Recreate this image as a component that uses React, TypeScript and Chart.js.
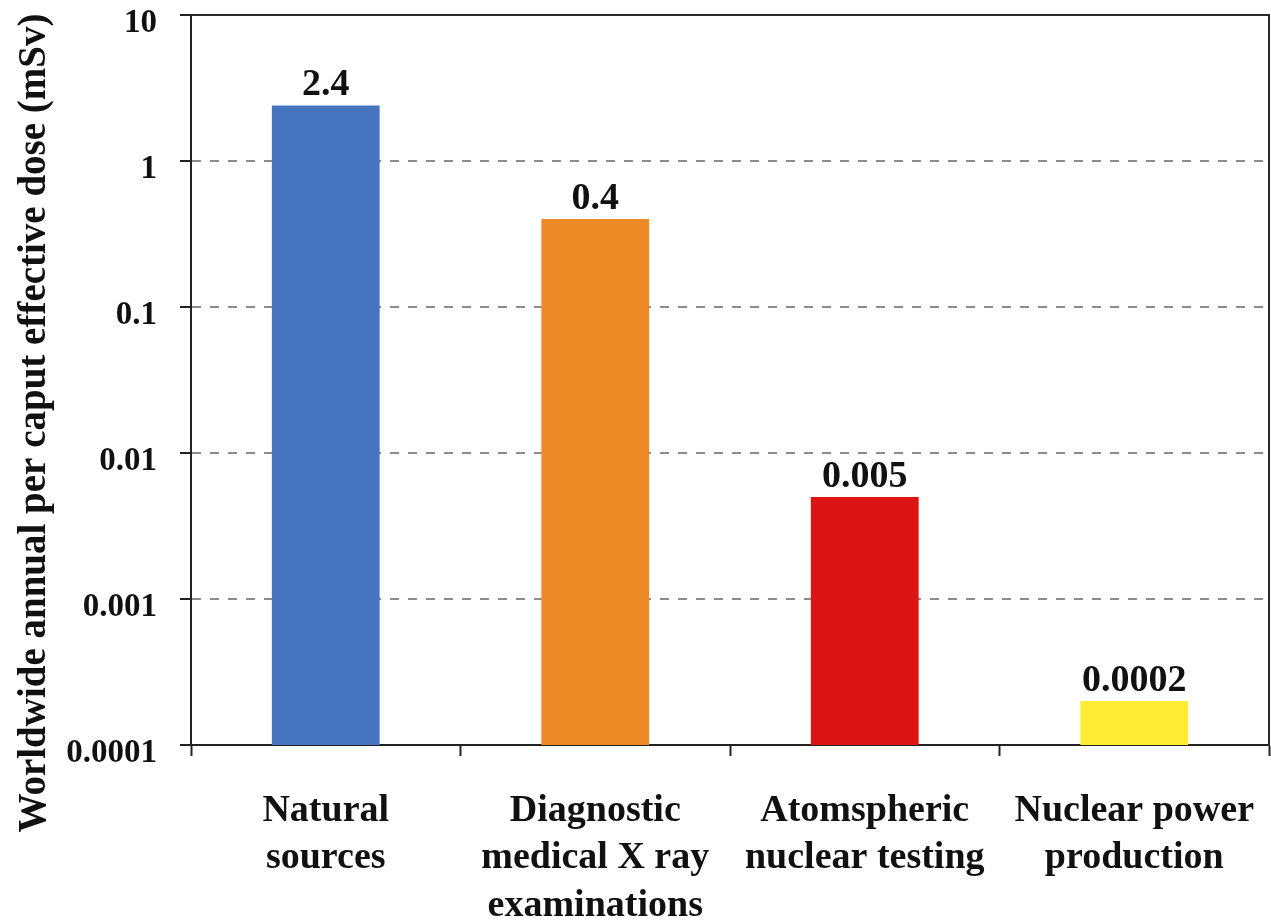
import React, { useEffect, useRef } from "react";
import { Chart, registerables } from "chart.js";

Chart.register(...registerables);

const categories: string[][] = [
  ["Natural", "sources"],
  ["Diagnostic", "medical X ray", "examinations"],
  ["Atomspheric", "nuclear testing"],
  ["Nuclear power", "production"],
];
const doses: number[] = [2.4, 0.4, 0.005, 0.0002];
const doseLabels: string[] = ["2.4", "0.4", "0.005", "0.0002"];
const barColors: string[] = ["#4674BE", "#EE8A26", "#DD1414", "#FFEC33"];
const yTickValues: number[] = [0.0001, 0.001, 0.01, 0.1, 1, 10];
const yTickLabels: string[] = ["0.0001", "0.001", "0.01", "0.1", "1", "10"];
const yTitle = "Worldwide annual per caput effective dose (mSv)";

const FONT = "'Liberation Serif', 'Times New Roman', serif";

const framePlugin = {
  id: "frame",
  afterDraw(chart: any) {
    const { ctx, chartArea } = chart;
    ctx.save();
    ctx.strokeStyle = "#2a2a2a";
    ctx.lineWidth = 2;
    ctx.beginPath();
    ctx.moveTo(chartArea.left, chartArea.top);
    ctx.lineTo(chartArea.right, chartArea.top);
    ctx.lineTo(chartArea.right, chartArea.bottom);
    ctx.stroke();
    ctx.restore();
  },
};

const valueLabelPlugin = {
  id: "valueLabels",
  afterDatasetsDraw(chart: any) {
    const { ctx } = chart;
    const meta = chart.getDatasetMeta(0);
    ctx.save();
    ctx.fillStyle = "#111";
    ctx.font = `bold 38px ${FONT}`;
    ctx.textAlign = "center";
    ctx.textBaseline = "alphabetic";
    meta.data.forEach((bar: any, i: number) => {
      ctx.fillText(doseLabels[i], bar.x, bar.y - 10);
    });
    ctx.restore();
  },
};

const yTitlePlugin = {
  id: "yTitle",
  afterDraw(chart: any) {
    const { ctx } = chart;
    ctx.save();
    ctx.translate(35, 423);
    ctx.rotate(-Math.PI / 2);
    ctx.fillStyle = "#111";
    ctx.font = `bold 39px ${FONT}`;
    ctx.textAlign = "center";
    ctx.textBaseline = "middle";
    ctx.fillText(yTitle, 0, 0);
    ctx.restore();
  },
};

export default function App() {
  const canvasRef = useRef<HTMLCanvasElement | null>(null);

  useEffect(() => {
    const canvas = canvasRef.current;
    if (!canvas) return;
    const chart = new Chart(canvas, {
      type: "bar",
      data: {
        labels: categories,
        datasets: [
          {
            data: doses,
            backgroundColor: barColors,
            borderWidth: 0,
            barPercentage: 0.4,
            categoryPercentage: 1,
          },
        ],
      },
      options: {
        responsive: false,
        animation: false,
        devicePixelRatio: 1,
        layout: { padding: { top: 15, right: 2, bottom: 0, left: 0 } },
        plugins: {
          legend: { display: false },
          tooltip: { enabled: false },
          title: { display: false },
        },
        scales: {
          x: {
            type: "category",
            offset: true,
            grid: {
              display: true,
              drawOnChartArea: false,
              drawTicks: true,
              tickLength: 11,
              offset: true,
              tickColor: "#222",
              tickWidth: 2,
            },
            border: { display: true, color: "#222", width: 2 },
            ticks: {
              color: "#111",
              font: { family: FONT, size: 38, weight: "bold", lineHeight: 1.24 },
              padding: 32,
              maxRotation: 0,
              minRotation: 0,
              autoSkip: false,
            },
            afterFit(scale: any) {
              scale.height = 177;
              scale.paddingLeft = 0;
              scale.paddingRight = 0;
            },
          },
          y: {
            type: "logarithmic",
            min: 0.0001,
            max: 10,
            afterBuildTicks(scale: any) {
              scale.ticks = yTickValues.map((v) => ({ value: v }));
            },
            grid: {
              display: true,
              drawOnChartArea: true,
              drawTicks: true,
              tickLength: 11,
              lineWidth: 2,
              color: (ctx: any) => {
                const v = ctx.tick ? ctx.tick.value : null;
                return v === 10 || v === 0.0001 ? "rgba(0,0,0,0)" : "#8c8c8c";
              },
              tickColor: "#222",
              tickWidth: 2,
              tickBorderDash: [],
            },
            border: { display: true, color: "#222", width: 2, dash: [9, 9] },
            ticks: {
              color: "#111",
              font: { family: FONT, size: 33, weight: "bold" },
              padding: 23,
              labelOffset: 8,
              autoSkip: false,
              callback: (value: any) => {
                const idx = yTickValues.indexOf(Number(value));
                return idx >= 0 ? yTickLabels[idx] : "";
              },
            },
            afterFit(scale: any) {
              scale.width = 191;
              scale.paddingTop = 0;
              scale.paddingBottom = 0;
            },
          },
        },
      },
      plugins: [framePlugin, valueLabelPlugin, yTitlePlugin],
    } as any);
    return () => chart.destroy();
  }, []);

  return (
    <div style={{ position: "fixed", left: 0, top: 0, width: 1271, height: 922, background: "#fff" }}>
      <canvas ref={canvasRef} width={1271} height={922} style={{ width: 1271, height: 922, display: "block" }} />
    </div>
  );
}
